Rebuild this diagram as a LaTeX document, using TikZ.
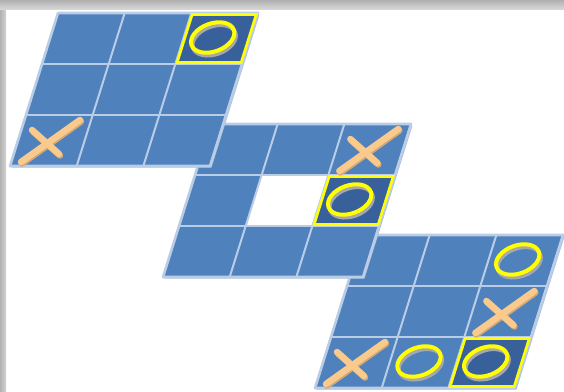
\documentclass[tikz,border=0pt]{standalone}
\usetikzlibrary{calc}
\definecolor{cellblue}{HTML}{4F81BD}
\definecolor{gridblue}{HTML}{BACDE6}
\definecolor{darkcell}{HTML}{38609A}
\definecolor{markyel}{HTML}{FFFF00}
\definecolor{xorange}{HTML}{FAC98C}
\definecolor{xshade}{HTML}{D2AA7A}
\definecolor{oshadow}{HTML}{A8A8A8}
\definecolor{boardshadow}{HTML}{AFC0D8}
\begin{document}
\begin{tikzpicture}[x=1pt,y=-1pt,
  b1/.style={cm={66.67,0,16,51,(58pt,-13pt)}},
  b2/.style={cm={66.67,0,16,51,(211pt,-124pt)}},
  b3/.style={cm={66.67,0,16,51,(363pt,-235pt)}},
  gridline/.style={draw=gridblue, line width=2pt},
  outerline/.style={draw=gridblue, line width=2.6pt, line join=round},
  hilite/.style={draw=markyel, line width=2.6pt, line join=miter},
  ostroke/.style={draw=markyel, line width=4pt},
  oshade/.style={draw=oshadow, line width=4pt},
  xstroke/.style={draw=xorange, line width=6.5pt, line cap=round},
  xshadestroke/.style={draw=xshade, line width=6.5pt, line cap=round},
]
\useasboundingbox (0,0) rectangle (564,391);
\fill[white] (0,0) rectangle (564,391);
\shade[left color=gray!60, right color=gray!35] (0,0) rectangle (6,391);
\shade[top color=gray!62, bottom color=gray!32] (0,0) rectangle (564,9);

\newcommand{\omark}[1]{%
  \draw[oshade] ($(#1)+(-2.5,1.8)$) circle[x radius=22.5, y radius=14, rotate=20];
  \draw[ostroke] ($(#1)+(-4,-1)$) circle[x radius=22.5, y radius=14, rotate=20];}
\newcommand{\xmark}[1]{%
  \draw[xshadestroke] ($(#1)+(12,-2.5)$) -- ($(#1)+(71,-44.5)$);
  \draw[xshadestroke] ($(#1)+(23,-34.5)$) -- ($(#1)+(50,-10.5)$);
  \draw[xstroke] ($(#1)+(11,-4)$) -- ($(#1)+(70,-46)$);
  \draw[xstroke] ($(#1)+(22,-36)$) -- ($(#1)+(49,-12)$);}

% ---------- board 3 (back) ----------
\begin{scope}[b3]
  \fill[boardshadow] (0.03,0.04)--(3.03,0.04)--(3.03,3.03)--(0.03,3.03)--cycle;
  \fill[cellblue] (0,0)--(3,0)--(3,3)--(0,3)--cycle;
  \fill[darkcell] (2,2)--(3,2)--(3,3)--(2,3)--cycle;
  \foreach \i in {1,2}{\draw[gridline] (\i,0)--(\i,3); \draw[gridline] (0,\i)--(3,\i);}
  \draw[outerline] (0,0)--(3,0)--(3,3)--(0,3)--cycle;
  \draw[hilite] (2.02,2.03)--(2.98,2.03)--(2.98,2.97)--(2.02,2.97)--cycle;
  \coordinate (b3o1) at (2.5,0.5);
  \coordinate (b3o2) at (1.5,2.5);
  \coordinate (b3o3) at (2.5,2.5);
  \coordinate (b3x1) at (2,2);
  \coordinate (b3x2) at (0,3);
\end{scope}
\omark{b3o1}\omark{b3o2}\omark{b3o3}
\xmark{b3x1}\xmark{b3x2}

% ---------- board 2 (middle) ----------
\begin{scope}[b2]
  \fill[boardshadow] (0.03,0.04)--(3.03,0.04)--(3.03,3.03)--(0.03,3.03)--cycle;
  \fill[cellblue] (0,0)--(3,0)--(3,3)--(0,3)--cycle;
  \fill[white] (1,1)--(2,1)--(2,2)--(1,2)--cycle;
  \fill[darkcell] (2,1)--(3,1)--(3,2)--(2,2)--cycle;
  \foreach \i in {1,2}{\draw[gridline] (\i,0)--(\i,3); \draw[gridline] (0,\i)--(3,\i);}
  \draw[outerline] (0,0)--(3,0)--(3,3)--(0,3)--cycle;
  \draw[hilite] (2.02,1.03)--(2.98,1.03)--(2.98,1.97)--(2.02,1.97)--cycle;
  \coordinate (b2o1) at (2.5,1.5);
  \coordinate (b2x1) at (2,1);
\end{scope}
\omark{b2o1}
\xmark{b2x1}

% ---------- board 1 (front) ----------
\begin{scope}[b1]
  \fill[boardshadow] (0.03,0.04)--(3.03,0.04)--(3.03,3.03)--(0.03,3.03)--cycle;
  \fill[cellblue] (0,0)--(3,0)--(3,3)--(0,3)--cycle;
  \fill[darkcell] (2,0)--(3,0)--(3,1)--(2,1)--cycle;
  \foreach \i in {1,2}{\draw[gridline] (\i,0)--(\i,3); \draw[gridline] (0,\i)--(3,\i);}
  \draw[outerline] (0,0)--(3,0)--(3,3)--(0,3)--cycle;
  \draw[hilite] (2.02,0.03)--(2.98,0.03)--(2.98,0.97)--(2.02,0.97)--cycle;
  \coordinate (b1o1) at (2.5,0.5);
  \coordinate (b1x1) at (0,3);
\end{scope}
\omark{b1o1}
\xmark{b1x1}
\end{tikzpicture}
\end{document}
